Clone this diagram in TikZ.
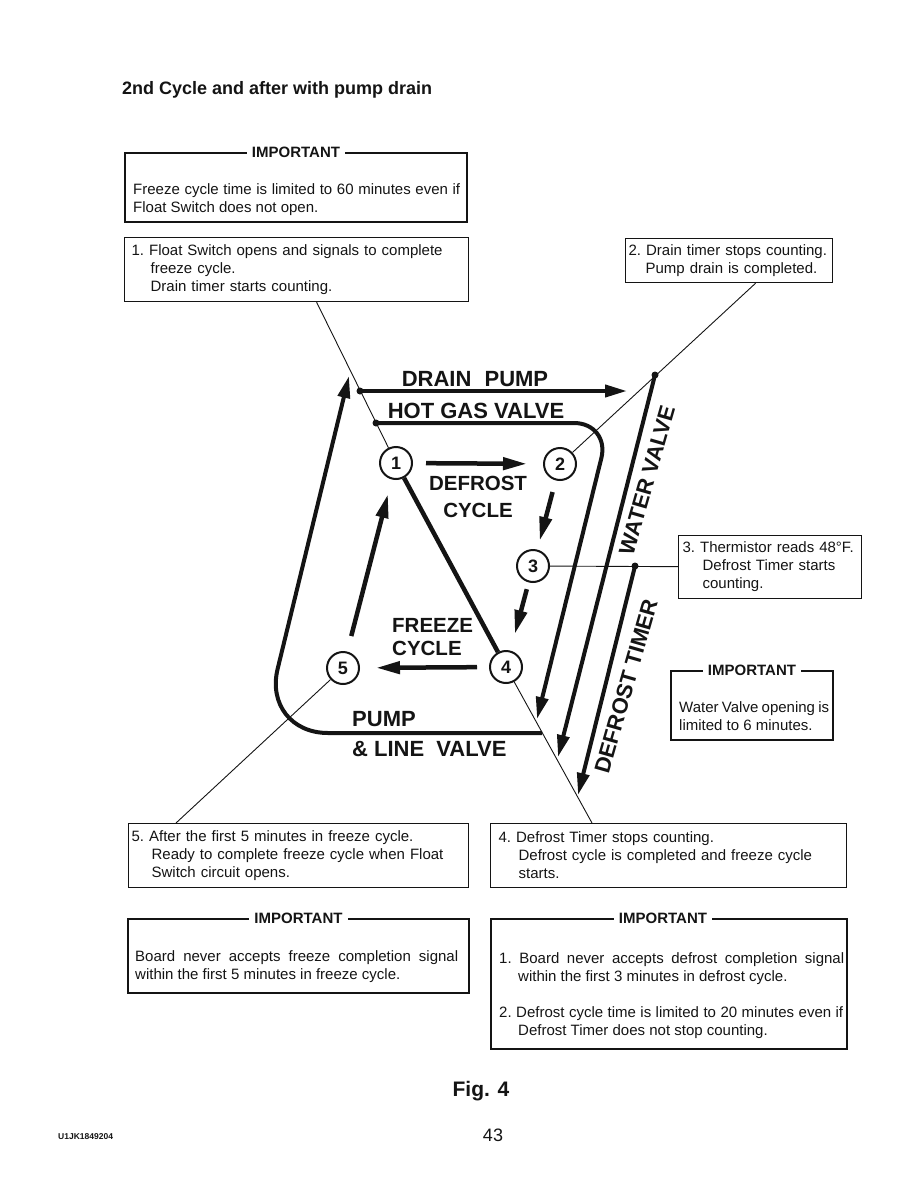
\documentclass[tikz,border=0pt]{standalone}
\usepackage{fontspec}
\setmainfont{Liberation Sans}
\usetikzlibrary{arrows.meta,positioning}
\definecolor{ink}{HTML}{141414}
\newcommand{\bodyfont}{\fontsize{15}{18}\selectfont\frenchspacing}
\newcommand{\spreadline}[2]{\makebox[#1][s]{#2}}

\begin{document}
\begin{tikzpicture}[x=1pt,y=-1pt,
  note/.style={rectangle,draw=ink,text=ink,line width=1.2pt,anchor=north west,align=left,font=\bodyfont,inner ysep=0pt},
  impframe/.style={rectangle,draw=ink,line width=2pt,anchor=north west,inner sep=0pt},
  imptitle/.style={fill=white,text=ink,inner xsep=5pt,inner ysep=1pt,font=\fontsize{15}{18}\selectfont\bfseries},
  imptext/.style={anchor=north west,align=left,inner sep=0pt,text=ink,font=\bodyfont},
  stage/.style={circle,draw=ink,text=ink,line width=2pt,minimum size=32pt,inner sep=0pt,fill=white,font=\fontsize{18}{18}\selectfont\bfseries},
  label/.style={inner sep=0pt,text=ink,font=\fontsize{22}{26}\selectfont\bfseries},
  cyclelabel/.style={inner sep=0pt,text=ink,font=\fontsize{20.5}{27}\selectfont\bfseries},
  flow/.style={draw=ink,line width=4pt,-{Triangle[length=22pt,width=12pt]}},
  inflow/.style={draw=ink,line width=4.5pt,-{Triangle[length=24pt,width=12pt]}},
  cycleline/.style={draw=ink,line width=4.5pt},
  leader/.style={draw=ink,line width=0.9pt},
  dot/.style={circle,fill=ink,inner sep=0pt,minimum size=7pt}]
\useasboundingbox (0,0) rectangle (918,1188);

\node[anchor=base west,inner sep=0pt,text=ink,font=\fontsize{18}{22}\selectfont\bfseries] (title) at (122,95) {2nd Cycle and after with pump drain};

% important notes
\node[impframe,minimum width=342pt,minimum height=69pt] (imp1) at (124,152) {};
\node[imptitle] (imp1h) at (imp1.north) {IMPORTANT};
\node[imptext] (imp1t) at (133,183) {\spreadline{327pt}{Freeze cycle time is limited to 60 minutes even if}\\Float Switch does not open.};

\node[impframe,minimum width=162pt,minimum height=69pt] (imp2) at (670,670) {};
\node[imptitle] (imp2h) at (imp2.north) {IMPORTANT};
\node[imptext] (imp2t) at (679,701) {\spreadline{150pt}{Water Valve opening is}\\limited to 6 minutes.};

\node[impframe,minimum width=341pt,minimum height=74pt] (imp3) at (127,918) {};
\node[imptitle] (imp3h) at (imp3.north) {IMPORTANT};
\node[imptext] (imp3t) at (135,950) {\spreadline{323pt}{Board never accepts freeze completion signal}\\within the first 5 minutes in freeze cycle.};

\node[impframe,minimum width=356pt,minimum height=130pt] (imp4) at (490,918) {};
\node[imptitle] (imp4h) at ([xshift=-6pt]imp4.north) {IMPORTANT};
\node[imptext] (imp4t) at (499,952) {\spreadline{345pt}{1. Board never accepts defrost completion signal}\\
  \hspace*{19pt}within the first 3 minutes in defrost cycle.\\[18pt]
  \spreadline{344pt}{2. Defrost cycle time is limited to 20 minutes even if}\\
  \hspace*{19pt}Defrost Timer does not stop counting.};

% step notes
\node[note,text width=330pt,minimum height=64pt,inner xsep=7pt] (b1) at (124,237) {\spreadline{326pt}{1. Float Switch opens and signals to complete}\\
  \hspace*{19pt}freeze cycle.\\
  \hspace*{19pt}Drain timer starts counting.};
\node[note,text width=201pt,minimum height=44pt,inner xsep=3pt] (b2) at (625,238) {2. Drain timer stops counting.\\
  \hspace*{17pt}Pump drain is completed.};
\node[note,text width=175pt,minimum height=63pt,inner xsep=4pt] (b3) at (678,535) {3. Thermistor reads 48°F.\\
  \hspace*{20pt}Defrost Timer starts\\
  \hspace*{20pt}counting.};
\node[note,text width=340pt,minimum height=64pt,inner xsep=8pt] (b4) at (490,823) {4. Defrost Timer stops counting.\\
  \hspace*{20pt}\spreadline{306pt}{Defrost cycle is completed and freeze cycle}\\
  \hspace*{20pt}starts.};
\node[note,text width=334pt,minimum height=64pt,inner xsep=3pt] (b5) at (128,823) {5. After the first 5 minutes in freeze cycle.\\
  \hspace*{20pt}\spreadline{312pt}{Ready to complete freeze cycle when Float}\\
  \hspace*{20pt}Switch circuit opens.};

% stages
\node[stage] (c1) at (396,463) {1};
\node[stage] (c2) at (560,464) {2};
\node[stage] (c3) at (533,566) {3};
\node[stage] (c4) at (506,667) {4};
\node[stage] (c5) at (343,668) {5};

% outputs
\coordinate (dp) at (360,391);
\coordinate (dpEnd) at (627,391);
\coordinate (hg) at (376,423);
\coordinate (hgBend) at (610,423);
\coordinate (hgEnd) at (537,719);
\coordinate (wv) at (655,375);
\coordinate (wvEnd) at (558,757);
\coordinate (dt) at (635,566);
\coordinate (dtEnd) at (578,795);
\coordinate (pl) at (542,733);
\coordinate (plBend) at (262,733);
\coordinate (plEnd) at (349,376);

\draw[leader] ([xshift=20pt]b1.south) -- (c1);
\draw[leader] ([xshift=26.5pt]b2.south) -- (c2);
\draw[leader] (c3) -- (b3);
\draw[leader] (c4) -- ([xshift=102pt]b4.north west);
\draw[leader] (c5) -- ([xshift=48pt]b5.north west);

\draw[flow] (dp) -- (dpEnd);
\draw[flow,rounded corners=36pt] (hg) -- (hgBend) -- (hgEnd);
\draw[flow] (wv) -- (wvEnd);
\draw[flow] (dt) -- (dtEnd);
\draw[flow,rounded corners=66pt] (pl) -- (plBend) -- (plEnd);
\node[dot] (dpDot) at (dp) {};
\node[dot] (hgDot) at (hg) {};
\node[dot] (wvDot) at (wv) {};
\node[dot] (dtDot) at (dt) {};

\draw[inflow,shorten <=13pt,shorten >=16pt] (c1) -- (c2);
\draw[inflow,shorten <=12pt,shorten >=9pt] (c2) -- (c3);
\draw[inflow,shorten <=7pt,shorten >=17pt] (c3) -- (c4);
\draw[inflow,shorten <=12pt,shorten >=16pt] (c4) -- (c5);
\draw[inflow,shorten <=16pt,shorten >=15pt] (c5) -- (c1);
\draw[cycleline] (c1) -- (c4);

\node[label] (dpLabel) at (475,379) {DRAIN\hspace{7pt} PUMP};
\node[label] (hgLabel) at (476,411) {HOT GAS VALVE};
\node[label,rotate=74] (wvLabel) at (647,480) {WATER VALVE};
\node[label,rotate=74] (dtLabel) at (626,686) {DEFROST TIMER};
\node[label,anchor=west,align=left,font=\fontsize{22}{30}\selectfont\bfseries] (plLabel) at (352,734) {PUMP\\\& LINE\hspace{6pt} VALVE};
\node[cyclelabel,align=center] (defrost) at (478,497) {DEFROST\\CYCLE};
\node[cyclelabel,anchor=west,align=left,font=\fontsize{20.5}{23}\selectfont\bfseries] (freeze) at (392,637) {FREEZE\\CYCLE};

% footer
\node[inner sep=0pt,text=ink,font=\fontsize{21}{24}\selectfont\bfseries] (fig) at (481,1091) {Fig. 4};
\node[inner sep=0pt,text=ink,font=\fontsize{18}{20}\selectfont] (page) at (493,1135) {43};
\node[anchor=west,inner sep=0pt,text=ink,font=\fontsize{8.5}{10}\selectfont\bfseries] (code) at (58,1137) {U1JK1849204};
\end{tikzpicture}
\end{document}
